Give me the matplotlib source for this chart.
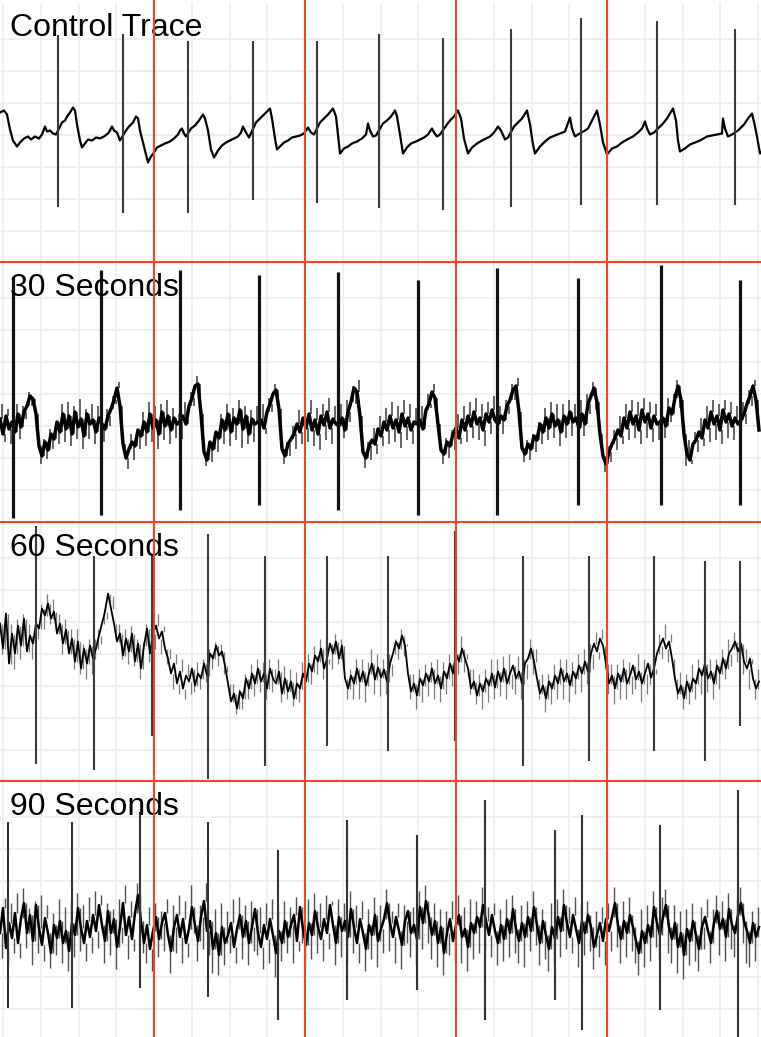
import numpy as np
import matplotlib
matplotlib.use("Agg")
import matplotlib.pyplot as plt

# ECG strips, 4 recordings. x = sample number (151 samples per second),
# y = amplitude in units of 0.01 mV.
labels = ["Control Trace", "30 Seconds", "60 Seconds", "90 Seconds"]

# --- control trace: baseline knots (sample, value) ---
ctrl_t = [0, 4, 7, 10, 13, 17, 20, 24, 28, 31, 35, 39, 42, 45, 47, 50, 53, 56,
          60, 62, 65, 67, 70, 73, 75, 77, 80, 82, 85, 88, 92, 96, 100, 104, 108, 110, 112, 114, 117, 120,
          126, 129, 133, 136, 138, 140, 143, 146, 148, 151, 154, 157, 161, 165, 170, 174, 178, 180, 182, 184, 186,
          191, 195, 199, 203, 205, 208, 211, 214, 218, 222, 226, 230, 234, 238, 241, 243, 246, 249,
          256, 260, 264, 268, 270, 272, 275, 277, 280, 284, 288, 292, 296, 300, 304, 308, 311, 314,
          320, 324, 328, 333, 336, 338, 340, 344, 348, 352, 357, 362, 366, 368, 370, 373, 376,
          383, 387, 391, 395, 397, 400, 403, 407, 411, 416, 420, 424, 428, 432, 434, 437, 440,
          447, 450, 454, 458, 461, 464, 468, 472, 477, 482, 486, 490, 494, 498, 501, 505, 508,
          514, 518, 522, 527, 530, 533, 535, 540, 545, 550, 555, 560, 565, 570, 572, 575, 578,
          585, 588, 592, 597, 600, 603, 607, 612, 617, 622, 627, 633, 638, 642, 645, 647, 650, 654,
          660, 663, 667, 673, 676, 678, 680, 685, 690, 695, 700, 707, 712, 717, 722, 723, 725, 728, 732,
          738, 740, 744, 748, 752, 755, 757, 760, 761]
ctrl_v = [22, 24, 20, 5, -6, -12, -8, -4, -2, -5, -2, -4, 0, 8, 3, 4, 1, 0,
          8, 12, 14, 18, 22, 27, 24, 10, -6, -13, -9, -5, -6, -3, -4, -2, 1, 4, 8, 4, 2, -6,
          4, 8, 12, 18, 16, 4, -8, -20, -28, -22, -18, -13, -11, -9, -7, -4, 0, 4, 6, 1, -2,
          6, 9, 14, 20, 16, 4, -15, -23, -16, -11, -8, -6, -4, -2, 2, 8, 2, -3,
          12, 16, 20, 24, 26, 16, -4, -15, -12, -8, -6, -3, -2, -1, 1, 7, 2, 0,
          12, 16, 20, 26, 18, 0, -19, -14, -12, -9, -7, -4, 0, 11, 4, -2, -1,
          11, 14, 18, 24, 18, 0, -19, -13, -9, -7, -5, -3, 0, 6, 2, -2, 0,
          10, 14, 18, 24, 16, -4, -19, -13, -9, -6, -4, -2, 2, 8, 4, -5, -3,
          8, 12, 16, 24, 10, -10, -19, -12, -7, -3, -1, 1, 3, 17, 6, -2, 0,
          4, 6, 14, 24, 10, -8, -20, -14, -12, -8, -5, -2, 2, 6, 13, 6, 0, 2,
          8, 11, 16, 26, 14, -6, -17, -14, -10, -8, -6, -2, -1, 0, 1, 16, 6, -2, 0,
          4, 6, 10, 16, 21, 8, -2, -19, -18]
ctrl_spk_t = [58, 123, 188, 253, 317, 379, 443, 511, 581, 657, 735]
ctrl_spk_hi = [100, 101, 94, 94, 94, 101, 97, 106, 117, 114, 106]
ctrl_spk_lo = [-72, -78, -78, -65, -68, -73, -75, -72, -70, -70, -70]

# --- noisy traces: "_v" core value every 3 samples, "_mid" noise peak in between ---
s30_v = [-25, -40, -22, -35, -28,
         -38, -20, -33, -18, -12, -2, -5, -20, -52, -62, -48, -56, -40, -45, -28, -38, -20, -35, -22, -40,
         -18, -33, -25, -42, -20, -30, -26, -38, -24,
         -30, -35, -22, -15, -6, 6, -12, -50, -64, -55, -48, -52, -36, -42, -28, -38, -20, -34, -26, -40,
         -18, -32, -22, -36, -24, -30,
         -28, -22, -30, -12, -4, 8, 10, -20, -58, -66, -48, -55, -38, -44, -26, -36, -20, -38, -24, -30,
         -16, -35, -22, -40, -25, -30, -28,
         -26, -34, -18, -10, 0, 4, -15, -55, -62, -50, -45, -40, -30, -38, -24, -34, -20, -36, -26, -40,
         -22, -31, -18, -34, -25, -30,
         -32, -24, -36, -18, -8, 6, 2, -22, -58, -64, -52, -46, -50, -35, -42, -28, -36, -22, -34, -26,
         -38, -20, -32, -24, -36, -28,
         -30, -26, -35, -16, -10, 2, -4, -30, -56, -60, -48, -52, -40, -34, -44, -26, -36, -22, -32, -18,
         -30, -24, -36, -20, -28, -16, -26,
         -30, -22, -26, -12, -6, 4, 8, -18, -54, -60, -50, -55, -42, -46, -30, -38, -24, -34, -20, -32,
         -26, -38, -22, -30, -18, -28, -24,
         -34, -20, -30, -10, -2, 6, -8, -40, -62, -70, -58, -50, -44, -36, -42, -24, -34, -18, -30, -22,
         -36, -16, -28, -20, -34, -22, -30,
         -28, -24, -32, -14, -20, -4, 8, -6, -40, -60, -66, -50, -46, -38, -44, -26, -34, -18, -30, -22,
         -36, -16, -28, -20, -32, -24, -30,
         -26, -20, -10, -2, 8, -6, -36]
s30_mid = [-10, -48, -15, -50, -30, -10, -45, -12, -25, 2, -12, -8, -35, -70, -45, -65, -35, -55, -30,
           -50, -10, -48, -8, -52, -12, -45, -5, -55, -15, -45, -10, -50, -12, -40,
           -48, -15, -32, -2, -10, 12, -30, -62, -75, -40, -66, -40, -55, -18, -52, -8, -48, -12, -55,
           -10, -46, -6, -50, -14, -44, -20,
           -45, -8, -25, 2, -12, 18, -2, -42, -72, -50, -68, -42, -58, -20, -50, -10, -52, -14, -46,
           -6, -54, -12, -50, -16, -48, -12, -44,
           -10, -40, -4, -18, 10, -6, -38, -70, -48, -62, -32, -55, -16, -50, -10, -48, -6, -52, -14,
           -56, -10, -46, -4, -50, -12, -46,
           -10, -44, -6, -28, 8, -10, 14, -40, -74, -48, -66, -34, -60, -22, -52, -14, -50, -8, -48,
           -12, -54, -6, -46, -10, -50, -14,
           -48, -12, -22, 0, -14, 10, -16, -48, -70, -44, -64, -36, -56, -20, -50, -12, -48, -8, -44,
           -4, -46, -10, -52, -8, -40, -2, -44,
           -12, -40, -6, -20, 10, -6, 16, -38, -68, -46, -66, -40, -58, -28, -50, -14, -46, -8, -44,
           -10, -52, -10, -44, -6, -42, -10, -46,
           -6, -42, 0, -20, 12, -16, -26, -58, -78, -52, -68, -36, -56, -22, -50, -10, -46, -6, -44,
           -8, -50, -4, -44, -8, -48, -10, -46,
           -10, -44, -4, -28, 0, 14, -14, -28, -72, -46, -70, -38, -58, -24, -52, -12, -48, -6, -46,
           -10, -50, -6, -44, -8, -46, -12, -44,
           -8, -30, 4, -12, 14, -20]
s30_spk_t = [13, 101, 180, 259, 338, 418, 497, 578, 661, 740]
s30_spk_hi = [116, 124, 124, 119, 122, 114, 126, 116, 129, 114]
s30_spk_lo = [-124, -121, -116, -111, -116, -121, -121, -111, -111, -111]

s60_v = [30, 5, 40, -10, 20, 0, 28, 8, 35, 2, 18, 10, 30, 25, 45, 38,
         50, 35, 42, 20, 30, 10, 24, 0, 15, -8, 12, -15, 5, -10, 8, -5,
         5, 18, 30, 42, 60, 45, 30, 12, 20, -2, 15, 2, 20, -8, 10, -15,
         8, 25, 0, 20, 28, 15, 22, 5, -5, -20, -10, -30, -18, -35, -22, -28,
         -15, -32, -20, -25, -10, -22, 0, -5, 8, -2, 2, -12, -30, -48, -40, -55,
         -38, -45, -25, -35, -20, -30, -15, -28, -20, -35, -15, -25, -30, -18, -40, -25,
         -38, -28, -45, -30, -35, -20, -28, -10, -18, -2, -8, 5, -15, -5, 10, 0,
         12, -5, 8, -25, -35, -22, -30, -15, -28, -18, -32, -20, -10, -26, -14, -24,
         -16, -28, -10, 0, 12, 5, 18, 8, -20, -38, -30, -42, -25, -32, -20, -28,
         -15, -30, -22, -35, -18, -25, -10, -20, 0, -8, 5, -5, -15, -35, -28, -42,
         -30, -38, -25, -32, -20, -34, -18, -28, -15, -30, -20, -12, -25, -18, -30, -10,
         -5, 5, -8, -25, -40, -32, -45, -28, -35, -22, -30, -15, -28, -20, -32, -18,
         -25, -12, -20, -8, -18, 0, 10, 2, 15, 8, -10, -30, -22, -35, -20, -28,
         -15, -30, -22, -12, -26, -18, -30, -20, -10, -24, -15, 0, 8, 15, 5, 12,
         -5, -25, -40, -32, -45, -28, -38, -25, -30, -15, -22, -10, -25, -18, -30, -12,
         -20, -5, -15, 0, 5, 12, 2, 10, -8, -15, -5, -25, -35, -28]
s60_mid = [0, 35, 5, 30, -15, 35, -5, 40, 10, 30, -5, 25, 15, 50, 25, 60,
           30, 55, 25, 40, 0, 35, 5, 25, -15, 25, -20, 10, -25, 15, -20, 15,
           25, 10, 45, 35, 52, 58, 20, 30, -5, 25, -10, 28, -12, 15, -25, 12,
           30, -8, 35, 5, 40, 0, 28, -10, 5, -35, 0, -40, -5, -45, -10, -40,
           -38, -8, -35, -5, -28, 5, -15, 12, -12, 10, -20, -18, -45, -30, -60, -35,
           -55, -20, -45, -10, -42, -5, -38, -8, -45, -5, -38, -15, -5, -48, -12, -45,
           -15, -52, -18, -48, -8, -40, 0, -30, 8, -20, 15, -25, 8, -10, -15, 20,
           -10, 15, -15, -45, -15, -45, -5, -45, -5, -48, -8, 5, -40, 0, -42, -5,
           -40, 0, -22, 15, -5, 25, -2, 10, -45, -20, -55, -15, -48, -10, -42, -8,
           -45, -5, -48, -8, -40, 0, -32, 10, -20, 18, -18, 0, -40, -15, -50, -20,
           -55, -15, -48, -5, -45, -5, -42, -2, -45, 0, -35, -40, -2, -45, -5, -25,
           15, -20, 5, -45, -20, -58, -20, -50, -10, -45, -5, -45, -5, -48, -8, -40,
           0, -38, 5, -30, 10, -15, 22, -5, 25, -15, -40, -10, -50, -10, -45, -5,
           -45, -8, -40, -35, 0, -48, -5, -40, -30, -5, -20, 20, -5, 30, -8, 20,
           -20, -45, -18, -55, -20, -50, -10, -45, -5, -40, 0, -38, -5, -45, -5, -35,
           5, -25, 15, -12, 22, -8, 25, -20, 5, -35, -10, -45, -15]
s60_spk_t = [36, 94, 152, 208, 265, 327, 388, 455, 523, 589, 654, 705, 740]
s60_spk_hi = [128, 98, 98, 120, 98, 98, 98, 123, 98, 98, 98, 93, 93]
s60_spk_lo = [-110, -116, -82, -125, -112, -92, -97, -87, -112, -107, -97, -107, -72]

s90_v = [-20, 5, -35, -10, -25, 0, -30, -5, 10, -20, -2, -28, 8, -15, -32, -5,
         -20, -40, -12, -25, -8, -30, -18, -38, -10, -22, 5, -15, -30, -8, -24, -2,
         -18, 8, -12, -28, 2, -20, -6, -34, -14, 10, -22, -4, -26, 0, 18, -8,
         -30, -12, -36, -18, -4, -26, -10, 0, -22, -38, -14, -2, -24, -6, -30, -16,
         6, -12, -28, -4, 12, -18, -8, -36, -20, -42, -14, -30, -22, -10, -34, -16,
         -2, -24, -8, -30, -14, 4, -20, -34, -12, -26, -6, -22, -40, -18, -30, -8,
         -24, -12, -2, -28, 6, -16, -32, -10, -22, 2, -14, -26, -6, -20, 8, -12,
         -30, -4, -18, -8, -24, 4, -14, -30, -6, -20, -36, -12, -22, -2, -28, -16,
         -6, 10, -10, -24, -4, -18, -32, -8, 2, -20, -12, -26, 6, -10, 12, -4,
         -22, -8, -30, -14, -40, -20, -6, -28, -12, -2, -24, -16, -34, -10, -20, -4,
         -14, 8, -8, -22, -2, -18, -30, -12, -26, -6, -20, 4, -16, -28, -10, -24,
         -4, -18, 6, -12, -30, -8, -22, -36, -14, -26, -4, -18, 8, -10, -24, -2,
         -16, -30, -8, -20, -2, -14, -34, -22, -10, -28, -6, -18, -4, 10, -12, -26,
         -8, -20, -2, -14, -28, -40, -18, -30, -12, -24, 6, -10, -22, -4, 8, -14,
         -26, -10, -34, -20, -42, -16, -28, -8, -22, -36, -14, -4, -18, -30, -10, 2,
         -16, -6, -24, 4, -12, -20, -2, 10, -8, -18, -30, -10, -24, -14]
s90_mid = [-45, 15, -50, 10, -40, 20, -45, 25, -35, 5, -52, 12, -40, 18, -48, 8,
           -55, 0, -42, 14, -50, 6, -58, 12, -44, 20, -38, 8, -48, 16, -40, 22,
           -35, 18, -50, 10, -42, 4, -56, 14, -30, 28, -46, 12, -38, 30, -20, -40,
           -50, 6, -58, 10, -44, 2, -38, 14, -60, 8, -40, 18, -50, 12, -44, 28,
           -20, -48, 8, -36, 30, -42, -60, 4, -62, 10, -52, 2, -40, 14, -50, 16,
           -46, 8, -52, 12, -38, -42, 6, -56, 10, -50, 14, -64, 2, -48, 12, -40,
           6, -50, 16, -38, -30, -54, 14, -46, 20, -40, 10, -48, 18, -36, 12, -52,
           14, -44, 10, -48, 22, -40, 8, -50, 12, -58, 4, -46, 16, -54, 8, -40,
           24, -38, 2, -50, 10, -56, 8, -30, -44, 6, -52, 22, -36, 28, -30, -46,
           10, -54, 4, -62, 2, -42, 12, -48, 18, -50, 6, -58, 14, -46, 12, -40,
           26, -36, 6, -44, 10, -52, 4, -48, 14, -44, 18, -40, -50, 8, -54, 12,
           -38, 22, -32, -52, 4, -46, -58, 10, -50, 14, -44, 24, -36, 6, -40, 16,
           -54, 8, -42, 12, -38, -56, 2, -44, 6, -52, 10, -38, 26, -34, -50, 12,
           -44, 16, -38, -50, -62, 4, -54, 8, -48, 22, -34, -46, 16, 24, -40, -50,
           8, -60, 2, -66, 4, -52, 10, -48, -58, 6, -36, 14, -50, 4, 18, -42,
           12, -48, 20, -36, -44, 14, 26, -30, -50, -54, 2, -48, 6]
s90_spk_t = [8, 72, 140, 208, 278, 347, 417, 485, 555, 582, 660, 738]
s90_spk_hi = [91, 91, 101, 91, 63, 93, 78, 113, 83, 98, 88, 123]
s90_spk_lo = [-95, -95, -75, -84, -107, -87, -77, -107, -87, -117, -97, -124]

STEP = 3

# (core, noise peaks, spikes t/hi/lo, core lw, hair lw, hair colour, spike lw, spike colour)
noisy = [
    (s30_v, s30_mid, s30_spk_t, s30_spk_hi, s30_spk_lo, 2.5, 1.1, "#3a3a3a", 2.3, "#111111"),
    (s60_v, s60_mid, s60_spk_t, s60_spk_hi, s60_spk_lo, 1.3, 0.9, "#7a7a7a", 1.5, "#3a3a3a"),
    (s90_v, s90_mid, s90_spk_t, s90_spk_hi, s90_spk_lo, 1.8, 1.0, "#505050", 1.5, "#333333"),
]

W, H = 761, 1037
PANEL_H = 259.5
RED = "#f2432c"
GRID = "#efefef"

fig = plt.figure(figsize=(W / 100, H / 100), dpi=100)


def panel(i):
    top = 2.5 + PANEL_H * i
    ax = fig.add_axes([0, 1 - (top + PANEL_H) / H, 1, PANEL_H / H])
    ax.set_xlim(0, W)
    ax.set_ylim(-127.5, 132)
    ax.set_axis_off()
    for gx in 3 + 37.75 * np.arange(21):
        ax.axvline(gx, color=GRID, lw=1.3, zorder=0)
    for gy in np.arange(-96, 97, 32):
        ax.axhline(gy, color=GRID, lw=1.3, zorder=0)
    return ax


ax = panel(0)
ax.plot(ctrl_t, ctrl_v, color="black", lw=1.6, zorder=2)
ax.vlines(ctrl_spk_t, ctrl_spk_lo, ctrl_spk_hi, color="#3a3a3a", lw=1.5, zorder=3)

for i, (v, mid, st, sh, sl, lw, hlw, hcol, slw, scol) in enumerate(noisy, start=1):
    ax = panel(i)
    v = np.array(v)
    t = np.arange(len(v)) * STEP
    ax.vlines(t[:-1] + STEP / 2, v[:-1], mid, color=hcol, lw=hlw, zorder=1.5)
    ax.plot(t, v, color="black", lw=lw, zorder=2)
    ax.vlines(st, sl, sh, color=scol, lw=slw, zorder=3)

over = fig.add_axes([0, 0, 1, 1])
over.set_xlim(0, W)
over.set_ylim(H, 0)
over.set_axis_off()
over.patch.set_alpha(0)
for i, lab in enumerate(labels):
    top = 2.5 + PANEL_H * i
    over.text(10, top + 34, lab, fontsize=23, family="Liberation Sans",
              va="baseline", ha="left", color="black", zorder=4)
    if i > 0:
        over.axhline(top, color=RED, lw=1.5, zorder=5)
for rx in [154, 305, 456, 607]:
    over.axvline(rx, color=RED, lw=1.5, zorder=5)

fig.savefig("out.png", dpi=100)
